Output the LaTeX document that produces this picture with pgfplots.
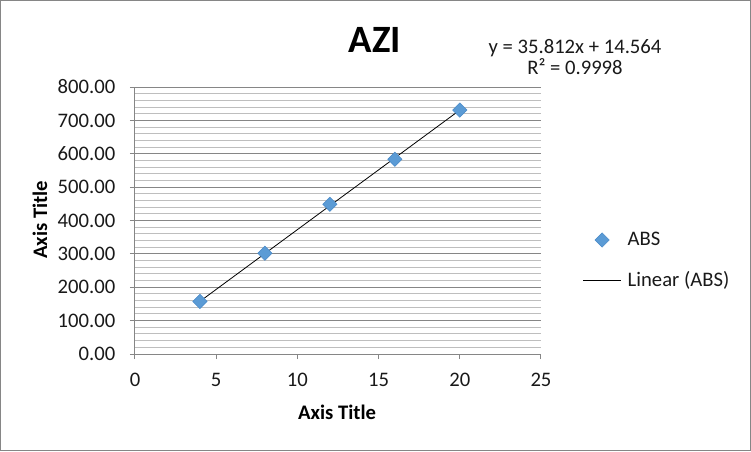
\documentclass[border=0pt]{standalone}
\usepackage{pgfplots}
\pgfplotsset{compat=1.18}
\usepackage{fontspec}
\setmainfont{Carlito}
\definecolor{gridmaj}{HTML}{868686}
\definecolor{gridmin}{HTML}{BEBEBE}
\definecolor{absblue}{HTML}{5B9BD5}
\definecolor{absedge}{HTML}{4A8AC8}
\pgfplotsset{
  legmark/.style={legend image code/.code={\draw[##1] plot coordinates {(0.49cm,0cm)};}},
  legline/.style={legend image code/.code={\draw[##1] (0cm,0cm) -- (0.98cm,0cm);}},
}
\begin{document}
\begin{tikzpicture}
% outer frame (751x451 px, 1px = 0.75pt)
\draw[gridmaj, line width=0.75pt] (0.375pt,-0.375pt) rectangle (562.875pt,-337.875pt);
\begin{axis}[
  at={(101.25pt,-265.5pt)}, anchor=south west,
  scale only axis, width=304.5pt, height=200.25pt,
  xmin=0, xmax=25, ymin=0, ymax=800,
  xtick={0,5,...,25}, ytick={0,100,...,800},
  minor y tick num=4,
  ymajorgrids, yminorgrids,
  major grid style={gridmaj, line width=0.75pt},
  minor grid style={gridmin, line width=0.75pt},
  axis x line=bottom, axis y line=left,
  axis line style={-, gridmaj, line width=0.75pt},
  tick align=outside, major tick length=3.75pt, minor tick length=0pt,
  tick style={gridmaj, line width=0.75pt},
  /pgf/number format/assume math mode=true,
  yticklabel={\pgfmathprintnumber[fixed,fixed zerofill,precision=2]{\tick}},
  ticklabel style={font=\fontsize{15.5}{18}\selectfont, text=black!90},
  xticklabel style={yshift=-7pt},
  yticklabel style={xshift=-7.5pt},
  clip=false,
  legend style={at={(1.103,0.35)}, anchor=west, draw=none, fill=none,
    font=\fontsize{15.5}{18}\selectfont, row sep=14pt, column sep=3pt, inner sep=0pt,
    text=black!90},
  legend cell align=left,
]
\addplot[only marks, mark=square*, mark size=3.8pt,
  mark options={rotate=45, fill=absblue, draw=absedge, line width=0.4pt},
  legmark]
  coordinates {(4,157.5) (8,302) (12,448.5) (16,583.5) (20,731)};
\addlegendentry{ABS}
\addplot[black, line width=0.6pt, mark=none, legline]
  coordinates {(4,157.812) (20,730.804)};
\addlegendentry{Linear (ABS)}
\end{axis}
% titles
\node[font=\fontsize{29}{32}\selectfont\bfseries] at (281.25pt,-30pt) {AZI};
\node[font=\fontsize{15.5}{18}\selectfont, align=center, text=black!90] at (431.25pt,-42.75pt)
  {y = 35.812x + 14.564\\[-2pt] R² = 0.9998};
\node[font=\fontsize{15.5}{18}\selectfont\bfseries] at (252.75pt,-309pt) {Axis Title};
\node[font=\fontsize{15.5}{18}\selectfont\bfseries, rotate=90] at (30pt,-165pt) {Axis Title};
\end{tikzpicture}
\end{document}
